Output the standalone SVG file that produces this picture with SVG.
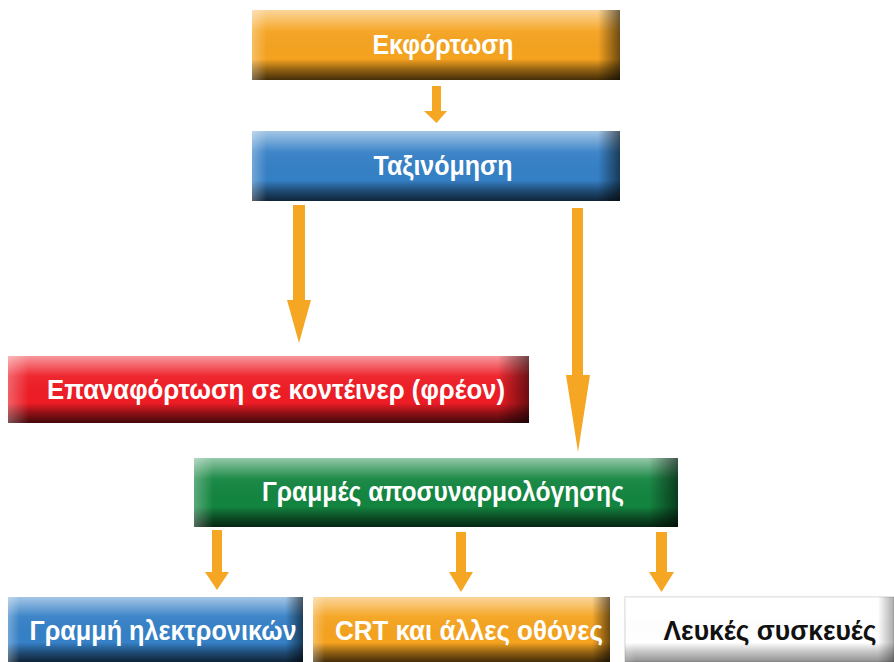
<svg xmlns="http://www.w3.org/2000/svg" width="894" height="662" viewBox="0 0 894 662">
<defs>
<linearGradient id="vshade" x1="0" y1="0" x2="0" y2="1">
<stop offset="0" stop-color="#fff" stop-opacity="0.55"/>
<stop offset="0.3" stop-color="#fff" stop-opacity="0.05"/>
<stop offset="0.7" stop-color="#000" stop-opacity="0"/>
<stop offset="0.85" stop-color="#000" stop-opacity="0.4"/>
<stop offset="1" stop-color="#000" stop-opacity="0.72"/>
</linearGradient>
<linearGradient id="hshade" x1="0" y1="0" x2="1" y2="0">
<stop offset="0" stop-color="#fff" stop-opacity="0.3"/>
<stop offset="0.04" stop-color="#fff" stop-opacity="0"/>
<stop offset="0.94" stop-color="#000" stop-opacity="0"/>
<stop offset="1" stop-color="#000" stop-opacity="0.55"/>
</linearGradient>
<style>
.sh1{fill:url(#vshade)}
.sh2{fill:url(#hshade)}
.t{font-family:"Liberation Sans",Arial,sans-serif;font-weight:bold;font-size:27px;fill:#fff;text-anchor:middle}
.dark{fill:#111}
.arr{fill:#F5A623}
</style>
</defs>
<rect width="894" height="662" fill="#fff"/>

<g id="connectors">
<polygon class="arr" points="432,86 441,86 441,111 447,111 436.5,123 424,111 432,111"/>
<polygon class="arr" points="293,205 305,205 305,300 311,300 299,343 287,300 293,300"/>
<polygon class="arr" points="572,208 583,208 583,375 590,375 578,452 566,375 572,375"/>
<polygon class="arr" points="212,530 222,530 222,572 229,572 217,590 205,572 212,572"/>
<polygon class="arr" points="456,532 466,532 466,572 473,572 461,592 449,572 456,572"/>
<polygon class="arr" points="656,532 667,532 667,572 674,572 661.5,592 649,572 656,572"/>
</g>

<g id="n1">
<rect x="252" y="10" width="368" height="70" fill="#F5A31F"/>
<rect x="252" y="10" width="368" height="70" class="sh1"/>
<rect x="252" y="10" width="368" height="70" class="sh2"/>
<text class="t" x="443" y="54" textLength="141" lengthAdjust="spacingAndGlyphs">Εκφόρτωση</text>
</g>

<g id="n2">
<rect x="252" y="131" width="368" height="70" fill="#3580C6"/>
<rect x="252" y="131" width="368" height="70" class="sh1"/>
<rect x="252" y="131" width="368" height="70" class="sh2"/>
<text class="t" x="443" y="175" textLength="139" lengthAdjust="spacingAndGlyphs">Ταξινόμηση</text>
</g>

<g id="n3">
<rect x="8" y="356" width="521" height="67" fill="#EE1C25"/>
<rect x="8" y="356" width="521" height="67" class="sh1"/>
<rect x="8" y="356" width="521" height="67" class="sh2"/>
<text class="t" x="276" y="399" textLength="458" lengthAdjust="spacingAndGlyphs">Επαναφόρτωση σε κοντέινερ (φρέον)</text>
</g>

<g id="n4">
<rect x="194" y="458" width="484" height="69" fill="#138540"/>
<rect x="194" y="458" width="484" height="69" class="sh1"/>
<rect x="194" y="458" width="484" height="69" class="sh2"/>
<text class="t" x="443" y="501" textLength="362" lengthAdjust="spacingAndGlyphs">Γραμμές αποσυναρμολόγησης</text>
</g>

<g id="n5">
<rect x="8" y="597" width="295" height="65" fill="#3580C6"/>
<rect x="8" y="597" width="295" height="65" class="sh1"/>
<rect x="8" y="597" width="295" height="65" class="sh2"/>
<text class="t" x="163" y="640" textLength="267" lengthAdjust="spacingAndGlyphs">Γραμμή ηλεκτρονικών</text>
</g>

<g id="n6">
<rect x="313" y="597" width="297" height="65" fill="#F5A31F"/>
<rect x="313" y="597" width="297" height="65" class="sh1"/>
<rect x="313" y="597" width="297" height="65" class="sh2"/>
<text class="t" x="469" y="640" textLength="268" lengthAdjust="spacingAndGlyphs">CRT και άλλες οθόνες</text>
</g>

<g id="n7">
<rect x="625" y="597" width="269" height="65" fill="#ffffff" stroke="#d0d0d0" stroke-width="1"/>
<rect x="625" y="597" width="269" height="65" class="sh1" opacity="0.6"/>
<rect x="625" y="597" width="269" height="65" class="sh2" opacity="0.6"/>
<text class="t dark" x="770" y="640" textLength="213" lengthAdjust="spacingAndGlyphs">Λευκές συσκευές</text>
</g>
</svg>
